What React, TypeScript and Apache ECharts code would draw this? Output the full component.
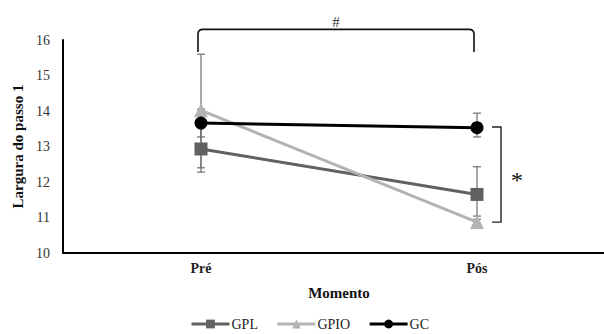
import React, { useEffect, useRef } from "react";
import * as echarts from "echarts";

const categories = ["Pré", "Pós"];
const seriesNames = ["GPL", "GPIO", "GC"];
const gplValues = [12.93, 11.65];
const gpioValues = [14.02, 10.87];
const gcValues = [13.66, 13.53];
const gplLow = [12.28, 11.04];
const gplHigh = [13.58, 12.43];
const gpioLow = [12.4, 10.8];
const gpioHigh = [15.6, 10.95];
const gcLow = [13.27, 13.27];
const gcHigh = [14.05, 13.94];
const yTicks = [10, 11, 12, 13, 14, 15, 16];

// annotation levels (in data units)
const topBracketY = 16.3;
const topBracketEndY = 15.66;
const rightBracketTop = 13.55;
const rightBracketBottom = 10.87;

const FONT = "'Liberation Serif', 'Times New Roman', serif";
const colors = ["#616161", "#b3b3b3", "#000000"];

export default function App() {
  const ref = useRef<HTMLDivElement>(null);
  useEffect(() => {
    document.body.style.margin = "0";
    document.body.style.overflow = "hidden";
    const chart = echarts.init(ref.current!, null, { renderer: "svg" });
    const lows = [gplLow, gpioLow, gcLow];
    const highs = [gplHigh, gpioHigh, gcHigh];
    const errData: number[][] = [];
    for (let s = 0; s < 3; s++) {
      for (let i = 0; i < categories.length; i++) {
        errData.push([i, lows[s][i], highs[s][i]]);
      }
    }
    const values = [gplValues, gpioValues, gcValues];
    const symbols = ["rect", "triangle", "circle"];
    chart.setOption({
      animation: false,
      grid: { left: 63, right: 0, top: 40, bottom: 81 },
      legend: {
        data: seriesNames,
        left: 190,
        top: 317,
        padding: 0,
        itemWidth: 38,
        itemHeight: 11,
        itemGap: 18,
        lineStyle: { width: 3 },
        textStyle: { fontFamily: FONT, fontSize: 14, lineHeight: 14, color: "#222", padding: [0, 0, 0, -3] },
      },
      xAxis: {
        type: "category",
        data: categories,
        boundaryGap: true,
        name: "Momento",
        nameLocation: "middle",
        nameGap: 32,
        nameTextStyle: { fontFamily: FONT, fontSize: 15, fontWeight: "bold", color: "#111" },
        axisLine: { lineStyle: { color: "#000", width: 2 } },
        axisTick: { show: false },
        axisLabel: { fontFamily: FONT, fontSize: 14, fontWeight: "bold", color: "#222", margin: 8 },
      },
      yAxis: {
        type: "value",
        min: yTicks[0],
        max: yTicks[yTicks.length - 1],
        interval: 1,
        name: "Largura do passo 1",
        nameLocation: "middle",
        nameRotate: 90,
        nameGap: 38,
        nameTextStyle: { fontFamily: FONT, fontSize: 15, fontWeight: "bold", color: "#111" },
        axisLine: { show: true, lineStyle: { color: "#000", width: 2 } },
        axisTick: { show: false },
        splitLine: { show: false },
        axisLabel: { fontFamily: FONT, fontSize: 14, color: "#333", margin: 13 },
      },
      series: [
        {
          type: "custom",
          name: "err",
          z: 1,
          clip: false,
          data: errData,
          renderItem: (params: any, api: any) => {
            const x = api.value(0);
            const lo = api.coord([x, api.value(1)]);
            const hi = api.coord([x, api.value(2)]);
            const w = 4;
            const st = { stroke: "#6e6e6e", lineWidth: 1.2 };
            return {
              type: "group",
              children: [
                { type: "line", shape: { x1: lo[0], y1: lo[1], x2: hi[0], y2: hi[1] }, style: st },
                { type: "line", shape: { x1: lo[0] - w, y1: lo[1], x2: lo[0] + w, y2: lo[1] }, style: st },
                { type: "line", shape: { x1: hi[0] - w, y1: hi[1], x2: hi[0] + w, y2: hi[1] }, style: st },
              ],
            };
          },
        },
        ...seriesNames.map((n, s) => ({
          type: "line",
          name: n,
          z: 2 + s,
          data: values[s],
          symbol: symbols[s],
          symbolSize: s === 1 ? 14 : 13,
          color: colors[s],
          lineStyle: { color: colors[s], width: 3 },
          itemStyle: { color: colors[s] },
        })),
        {
          type: "custom",
          name: "annot",
          z: 10,
          clip: false,
          data: [[0]],
          renderItem: (params: any, api: any) => {
            const a = api.coord([0, topBracketY]);
            const b = api.coord([1, topBracketY]);
            const aEnd = api.coord([0, topBracketEndY]);
            const xl = a[0] - 3;
            const xr = b[0] - 3;
            const yt = a[1];
            const ye = aEnd[1];
            const r = 5;
            const d1 = `M${xl} ${ye} L${xl} ${yt + r} Q${xl} ${yt} ${xl + r} ${yt} L${xr - r} ${yt} Q${xr} ${yt} ${xr} ${yt + r} L${xr} ${ye}`;
            const p1 = api.coord([1, rightBracketTop]);
            const p2 = api.coord([1, rightBracketBottom]);
            const xb = p1[0] + 24;
            const d2 = `M${xb - 9} ${p1[1]} L${xb} ${p1[1]} L${xb} ${p2[1]} L${xb - 9} ${p2[1]}`;
            return {
              type: "group",
              children: [
                { type: "path", shape: { pathData: d1 }, style: { stroke: "#111", lineWidth: 1.6, fill: "none" } },
                { type: "path", shape: { pathData: d2 }, style: { stroke: "#222", lineWidth: 1.4, fill: "none" } },
                {
                  type: "text",
                  style: {
                    text: "#",
                    x: (xl + xr) / 2,
                    y: yt - 7,
                    align: "center",
                    verticalAlign: "middle",
                    fontFamily: FONT,
                    fontSize: 15,
                    fill: "#333",
                  },
                },
                {
                  type: "text",
                  style: {
                    text: "*",
                    x: xb + 16,
                    y: (p1[1] + p2[1]) / 2 + 5,
                    align: "center",
                    verticalAlign: "middle",
                    fontFamily: FONT,
                    fontSize: 24,
                    fill: "#111",
                  },
                },
              ],
            };
          },
        },
      ],
    });
    return () => chart.dispose();
  }, []);
  return <div ref={ref} style={{ width: 615, height: 334 }} />;
}
